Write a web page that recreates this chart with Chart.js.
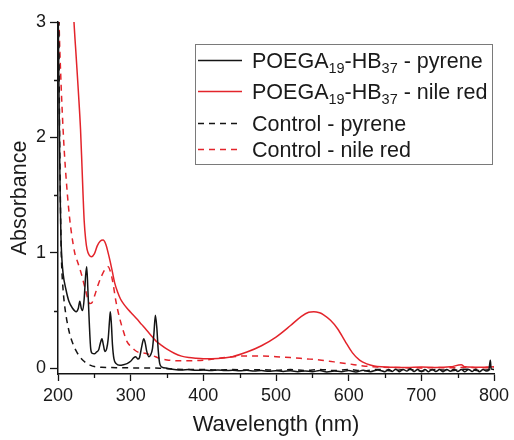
<!DOCTYPE html>
<html><head><meta charset="utf-8">
<script src="https://cdn.jsdelivr.net/npm/chart.js@4/dist/chart.umd.min.js"></script>
<style>html,body{margin:0;padding:0;background:#fff;}#wrap{width:514px;height:440px;}</style>
</head><body><div id="wrap"><canvas id="c" width="514" height="440"></canvas></div>
<script>
// ---- tick values ----
const xTicks = [200, 300, 400, 500, 600, 700, 800];
const xMinor = [250, 350, 450, 550, 650, 750];
const yTicks = [0, 1, 2, 3];
const yMinor = [0.5, 1.5, 2.5];

// ---- legend labels (_{..} = subscript) ----
const seriesLabels = [
  "POEGA_{19}-HB_{37} - pyrene",
  "POEGA_{19}-HB_{37} - nile red",
  "Control - pyrene",
  "Control - nile red"
];

// ---- POEGA19-HB37 - pyrene (black solid) ----
const polyPyreneX = [200,201,202,203,204,205,207,211,215,220,225,228,230,232,234,236,238,239.5,241,243,245,247,250,253,256,258,260.5,262.5,264.5,267,269,271,272,273.5,275,277,280,285,290,295,300,304,307,310,312,315,318,320,322,325,327,330,332,334,336,338,340,343,350,
  360,370,380,390,400,410,420,430,440,450,460,470,480,490,500,510,520,530,540,550,560,570,580,590,600,610,620,630,640,650,655,660,665,670,675,680,685,690,695,700,705,710,715,720,725,730,735,740,745,750,755,760,765,770,775,780,785,790,793,795,796,800];
const polyPyreneY = [3.3,2.6,2.0,1.5,1.15,0.98,0.82,0.68,0.58,0.52,0.49,0.52,0.58,0.52,0.5,0.6,0.8,0.88,0.7,0.4,0.17,0.13,0.125,0.14,0.16,0.21,0.255,0.2,0.145,0.17,0.25,0.42,0.49,0.38,0.2,0.08,0.04,0.025,0.03,0.04,0.06,0.09,0.1,0.08,0.09,0.18,0.255,0.22,0.15,0.1,0.11,0.17,0.3,0.46,0.35,0.15,0.04,0.01,0.0,
  -0.01,-0.015,-0.012,-0.018,-0.015,-0.02,-0.016,-0.02,-0.018,-0.022,-0.018,-0.024,-0.02,-0.026,-0.022,-0.028,-0.022,-0.03,-0.024,-0.03,-0.02,-0.032,-0.024,-0.03,-0.02,-0.032,-0.018,-0.03,-0.015,-0.03,-0.01,-0.028,-0.008,-0.03,-0.01,-0.025,-0.005,-0.028,-0.01,-0.03,-0.012,-0.03,-0.01,-0.028,-0.012,-0.03,-0.01,-0.026,-0.008,-0.028,-0.012,-0.03,-0.01,-0.028,-0.008,-0.03,-0.012,-0.025,-0.01,0.07,-0.005,-0.01];

// ---- POEGA19-HB37 - nile red (red solid) ----
const polyNileX = [219,222,225,228,231,233,234.5,236,238,240,243,246,250,254,258,262,266,269,272,275,278,282,286,290,295,300,308,315,322,330,335,342,350,360,370,380,390,400,420,440,460,480,500,520,535,545,552,560,565,575,585,595,605,615,625,635,645,660,680,700,720,740,755,760,780,790,800];
const polyNileY = [3.4,3.0,2.7,2.4,2.07,1.75,1.5,1.28,1.12,1.03,0.98,0.965,0.99,1.06,1.1,1.11,1.07,1.0,0.92,0.83,0.74,0.66,0.6,0.56,0.52,0.485,0.43,0.38,0.33,0.27,0.235,0.2,0.165,0.13,0.105,0.092,0.086,0.083,0.085,0.1,0.14,0.195,0.27,0.37,0.45,0.485,0.49,0.48,0.465,0.415,0.34,0.235,0.135,0.07,0.038,0.02,0.012,0.008,0.006,0.01,0.006,0.012,0.03,0.012,0.008,0.01,0.012];

// ---- Control - pyrene (black dashed) ----
const ctrlPyreneX = [200,201,202,203,204,205,207,209,212,216,220,225,230,235,240,245,250,260,280,300,340,360,380,400,420,440,460,480,500,520,540,560,580,600,620,640,660,680,700,720,740,760,780,800];
const ctrlPyreneY = [3.3,3.0,2.2,1.6,1.15,0.9,0.68,0.55,0.42,0.3,0.22,0.15,0.1,0.065,0.04,0.025,0.015,0.008,0.005,0.003,0.0,-0.008,-0.012,-0.01,-0.015,-0.012,-0.016,-0.012,-0.018,-0.012,-0.02,-0.01,-0.02,-0.012,-0.022,-0.01,-0.022,-0.008,-0.024,-0.01,-0.022,-0.008,-0.02,-0.01];

// ---- Control - nile red (red dashed) ----
const ctrlNileX = [200,201.5,204,206,208,210,213,216,219,223,227,232,238,243.5,247,250.5,255,260,265,269,272,275,280,285,290,295,300,305,310,320,330,340,350,360,380,400,420,440,460,480,500,520,540,560,580,600,620,640,660,680,700,720,740,760,780,800];
const ctrlNileY = [3.6,3.0,2.5,2.2,1.95,1.75,1.5,1.3,1.15,1.0,0.92,0.82,0.675,0.56,0.57,0.63,0.72,0.8,0.86,0.88,0.84,0.76,0.57,0.43,0.32,0.23,0.19,0.16,0.14,0.13,0.11,0.085,0.072,0.066,0.064,0.07,0.085,0.1,0.107,0.107,0.1,0.092,0.082,0.072,0.055,0.038,0.02,0.01,0.006,0.005,0.003,0.006,0.004,0.008,0.004,0.006];

const pts = (xs, ys) => xs.map((x, i) => ({x: x, y: ys[i]}));
const plain = s => s.replace(/_\{([^}]*)\}/g, '$1');

const FONT = "'Liberation Sans', Arial, sans-serif";
const TXT = '#1a1a1a';
const RED = '#e3242b';
const BLK = '#141414';

const minorTicks = {
  id: 'minorTicks',
  afterDraw(chart) {
    const ctx = chart.ctx, xs = chart.scales.x, ys = chart.scales.y;
    ctx.save();
    ctx.strokeStyle = BLK; ctx.lineWidth = 1.3;
    ctx.beginPath();
    xMinor.forEach(v => { const p = Math.round(xs.getPixelForValue(v)) + 0.5; ctx.moveTo(p, xs.top); ctx.lineTo(p, xs.top + 4); });
    yMinor.forEach(v => { const p = Math.round(ys.getPixelForValue(v)) + 0.5; ctx.moveTo(ys.right, p); ctx.lineTo(ys.right - 4, p); });
    ctx.stroke();
    ctx.restore();
  }
};

const boxLegend = {
  id: 'boxLegend',
  afterDraw(chart) {
    const ctx = chart.ctx;
    const x0 = 195, y0 = 44, w = 297, h = 120;
    const rows = [60, 91, 123, 149];
    ctx.save();
    ctx.strokeStyle = '#7a7a7a'; ctx.lineWidth = 1;
    ctx.strokeRect(x0 + 0.5, y0 + 0.5, w, h);
    chart.data.datasets.forEach((ds, i) => {
      const yc = rows[i];
      ctx.strokeStyle = ds.borderColor; ctx.lineWidth = 1.5;
      ctx.setLineDash(ds.borderDash || []);
      ctx.beginPath(); ctx.moveTo(198, yc + 0.5); ctx.lineTo(242, yc + 0.5); ctx.stroke();
      ctx.setLineDash([]);
      let x = 252;
      const base = yc + 7.5;
      const parts = seriesLabels[i].split(/(_\{[^}]*\})/).filter(s => s.length);
      ctx.fillStyle = TXT; ctx.textBaseline = 'alphabetic'; ctx.textAlign = 'left';
      parts.forEach(p => {
        const m = p.match(/^_\{([^}]*)\}$/);
        if (m) {
          ctx.font = '14.5px ' + FONT;
          ctx.fillText(m[1], x, base + 5);
          x += ctx.measureText(m[1]).width;
        } else {
          ctx.font = '21.5px ' + FONT;
          ctx.fillText(p, x, base);
          x += ctx.measureText(p).width;
        }
      });
    });
    ctx.restore();
  }
};

const common = {pointRadius: 0, borderWidth: 1.5, fill: false, cubicInterpolationMode: 'monotone'};

new Chart(document.getElementById('c'), {
  type: 'line',
  data: {
    datasets: [
      Object.assign({label: plain(seriesLabels[0]), data: pts(polyPyreneX, polyPyreneY), borderColor: BLK}, common),
      Object.assign({label: plain(seriesLabels[1]), data: pts(polyNileX, polyNileY), borderColor: RED}, common),
      Object.assign({label: plain(seriesLabels[2]), data: pts(ctrlPyreneX, ctrlPyreneY), borderColor: BLK, borderDash: [6, 5]}, common),
      Object.assign({label: plain(seriesLabels[3]), data: pts(ctrlNileX, ctrlNileY), borderColor: RED, borderDash: [6, 5]}, common)
    ]
  },
  options: {
    responsive: false,
    animation: false,
    devicePixelRatio: 1,
    layout: {padding: {top: 22, right: 20, left: 0, bottom: 0}},
    plugins: {legend: {display: false}, tooltip: {enabled: false}},
    scales: {
      x: {
        type: 'linear', position: 'bottom', min: 200, max: 800,
        afterBuildTicks: s => { s.ticks = xTicks.map(v => ({value: v})); },
        afterFit: s => { s.height = 66; },
        ticks: {font: {family: FONT, size: 18}, color: TXT, padding: 4, maxRotation: 0, autoSkip: false},
        grid: {drawOnChartArea: false, drawTicks: true, tickLength: 7, tickColor: BLK, tickWidth: 1.3},
        border: {display: true, color: BLK, width: 1.5},
        title: {display: true, text: 'Wavelength (nm)', color: TXT, font: {family: FONT, size: 22}, padding: {top: 0, bottom: 2}}
      },
      y: {
        type: 'linear', position: 'left', min: -0.05, max: 3,
        afterBuildTicks: s => { s.ticks = yTicks.map(v => ({value: v})); },
        afterFit: s => { s.width = 58; },
        ticks: {font: {family: FONT, size: 18}, color: TXT, padding: 4, callback: v => String(v)},
        grid: {drawOnChartArea: false, drawTicks: true, tickLength: 8, tickColor: BLK, tickWidth: 1.3},
        border: {display: true, color: BLK, width: 1.5},
        title: {display: true, text: 'Absorbance', color: TXT, font: {family: FONT, size: 21.5}, padding: {top: 7, bottom: 0}}
      }
    }
  },
  plugins: [minorTicks, boxLegend]
});
</script></body></html>
